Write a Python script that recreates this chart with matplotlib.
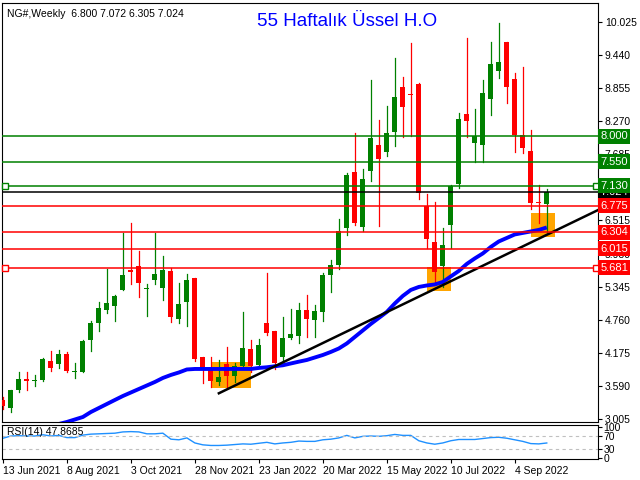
import matplotlib.pyplot as plt
import numpy as np

# weekly NG# candles, 13 Jun 2021 .. 25 Sep 2022
opens = [3.341, 3.205, 3.518, 3.712, 3.682, 3.694, 4.030, 3.983, 4.154, 3.841,
         3.841, 4.407, 4.708, 4.938, 5.008, 5.291, 5.640, 5.710, 5.298, 5.463,
         5.321, 5.622, 4.778, 5.079, 5.498, 4.096, 3.901, 3.664, 3.977, 3.771,
         3.937, 4.237, 3.965, 4.702, 4.561, 4.106, 4.442, 4.478, 4.932, 4.755,
         4.902, 5.551, 5.728, 6.388, 7.367, 6.405, 7.396, 7.850, 7.721, 8.075,
         8.876, 8.752, 8.929, 6.777, 6.135, 5.710, 6.435, 7.160, 8.398, 7.891,
         7.850, 8.663, 9.158, 9.671, 9.017, 8.027, 7.744, 6.842, 6.800]
highs = [3.399, 3.518, 3.836, 3.836, 3.783, 4.089, 4.207, 4.225, 4.190, 3.995,
         4.402, 4.743, 5.074, 5.657, 5.197, 6.299, 6.471, 5.976, 5.392, 6.299,
         5.887, 5.680, 5.415, 5.569, 5.498, 4.096, 4.106, 4.048, 4.273, 3.990,
         4.891, 4.402, 4.414, 5.581, 4.561, 4.808, 4.950, 5.051, 5.197, 5.021,
         5.581, 5.816, 6.536, 7.349, 8.057, 7.420, 8.999, 8.292, 8.540, 9.383,
         9.058, 9.648, 8.952, 6.983, 6.842, 6.377, 7.143, 8.411, 9.737, 8.487,
         8.999, 9.671, 10.002, 9.671, 9.118, 9.224, 8.115, 7.143, 7.072]
lows = [3.182, 3.134, 3.482, 3.518, 3.594, 3.682, 3.859, 3.912, 3.841, 3.735,
        3.841, 4.213, 4.566, 4.884, 4.743, 5.286, 5.397, 5.167, 4.826, 5.392,
        5.109, 4.725, 4.708, 4.649, 4.036, 3.647, 3.576, 3.606, 3.548, 3.664,
        3.901, 3.841, 3.930, 4.490, 3.884, 4.018, 4.419, 4.343, 4.460, 4.460,
        4.743, 5.256, 5.652, 6.258, 6.435, 6.335, 7.219, 6.423, 7.655, 7.832,
        7.997, 8.009, 6.890, 6.023, 5.433, 5.339, 6.023, 7.084, 7.997, 7.544,
        7.544, 8.380, 9.040, 8.598, 7.732, 7.714, 6.718, 6.465, 6.305]
closes = [3.240, 3.518, 3.712, 3.682, 3.700, 4.071, 3.912, 4.154, 3.859, 3.854,
          4.384, 4.702, 4.968, 5.056, 5.180, 5.551, 5.610, 5.415, 5.321, 5.569,
          5.640, 4.814, 5.038, 5.463, 4.071, 3.884, 3.682, 3.742, 3.771, 3.937,
          4.255, 3.947, 4.313, 4.531, 3.995, 4.437, 4.508, 4.932, 4.778, 4.915,
          5.551, 5.728, 6.335, 7.319, 6.465, 7.249, 7.979, 7.602, 8.057, 8.693,
          8.527, 8.734, 6.996, 6.182, 5.610, 6.082, 7.125, 8.310, 8.280, 8.009,
          8.764, 9.282, 9.318, 8.881, 8.027, 7.802, 6.830, 6.819, 7.024]

# 55 week EMA, shown from week 7 on
ema_start = 7
ema55 = [2.916, 2.952, 2.996, 3.040, 3.128, 3.199, 3.270, 3.341, 3.411, 3.473,
         3.535, 3.597, 3.659, 3.730, 3.783, 3.827, 3.880, 3.889, 3.889, 3.889,
         3.889, 3.889, 3.889, 3.889, 3.889, 3.907, 3.919, 3.937, 3.954, 3.986,
         4.018, 4.048, 4.092, 4.136, 4.190, 4.251, 4.340, 4.455, 4.570, 4.685,
         4.791, 4.897, 5.047, 5.180, 5.286, 5.339, 5.365, 5.383, 5.427, 5.525,
         5.622, 5.746, 5.843, 5.931, 6.046, 6.143, 6.205, 6.267, 6.294, 6.320,
         6.347, 6.391]

rsi14 = [63, 70, 71, 70, 70, 74, 70, 72, 65, 65,
         73, 76, 77, 78, 79, 83, 84, 83, 77, 77,
         79, 60, 58, 64, 48, 42, 40, 40, 41, 43,
         45, 44, 47, 50, 45, 48, 50, 54, 53, 53,
         58, 60, 64, 72, 64, 69, 70, 69, 71, 75,
         72, 72, 55, 48, 44, 48, 55, 59, 59, 59,
         62, 65, 66, 63, 58, 53, 46, 45, 47.8685]

date_labels = ['13 Jun 2021', '8 Aug 2021', '3 Oct 2021', '28 Nov 2021', '23 Jan 2022',
               '20 Mar 2022', '15 May 2022', '10 Jul 2022', '4 Sep 2022']
price_ticks = [3.005, 3.590, 4.175, 4.760, 5.345, 5.930, 6.515, 7.100, 7.685,
               8.270, 8.855, 9.440, 10.025]

resistance = [8.000, 7.550, 7.130]
support = [6.775, 6.304, 6.015, 5.681]
last_price = 7.024

# orange zones: (first week, last week, low, high)
zones = [(26, 31, 3.558, 4.018), (53, 56, 5.274, 5.687), (66, 69, 6.228, 6.653)]
trend_pts = ([27, 75], [3.459, 6.739])

GREEN = '#008000'
RED = '#ff0000'
plt.rcParams['font.family'] = ['Liberation Sans', 'DejaVu Sans']

fig = plt.figure(figsize=(6.4, 4.8), dpi=100)
ax = fig.add_axes([0.003, 0.1208, 0.931, 0.8732])
ax_rsi = fig.add_axes([0.003, 0.0437, 0.931, 0.0709])

n = len(opens)
x = np.arange(n)

for x0, x1, lo, hi in zones:
    ax.add_patch(plt.Rectangle((x0, lo), x1 - x0, hi - lo, color='#ffa500', zorder=1, lw=0))

for i in range(n):
    col = GREEN if closes[i] >= opens[i] else RED
    ax.plot([i, i], [lows[i], highs[i]], color=col, lw=0.9, zorder=3)
    b0, b1 = sorted([opens[i], closes[i]])
    ax.add_patch(plt.Rectangle((i - 0.32, b0), 0.64, max(b1 - b0, 0.02), color=col, lw=0, zorder=3))

ax.plot(np.arange(ema_start, ema_start + len(ema55)), ema55, color='#0000ff', lw=2.8,
        zorder=4, solid_capstyle='butt')
ax.plot(trend_pts[0], trend_pts[1], color='black', lw=1.8, zorder=4)

for lv in resistance:
    ax.axhline(lv, color=GREEN, lw=1.1, zorder=5)
for lv in support:
    ax.axhline(lv, color=RED, lw=1.1, zorder=5)
ax.axhline(last_price, color='black', lw=1.1, zorder=5)
ax.plot([0.2, 74.2], [7.130, 7.130], 's', ms=4, mfc='white', mec=GREEN, mew=1, zorder=6, clip_on=False)
ax.plot([0.2, 74.2], [5.681, 5.681], 's', ms=4, mfc='white', mec=RED, mew=1, zorder=6, clip_on=False)

ax.set_xlim(-0.125, 74.375)
ax.set_ylim(2.951, 10.361)
ax.set_xticks([])
ax.yaxis.tick_right()
ax.set_yticks(price_ticks)
# 7.100 sits under the 7.130 tag, so its label is left blank
ax.set_yticklabels(['' if t == 7.100 else '%.3f' % t for t in price_ticks], fontsize=7.5)
ax.tick_params(axis='y', length=3, pad=2)

def price_tag(val, bg):
    ax.text(1.004, val, '%.3f' % val, transform=ax.get_yaxis_transform(), ha='left',
            va='center', fontsize=8, color='white', zorder=10,
            bbox=dict(boxstyle='square,pad=0.22', fc=bg, ec='none'))

price_tag(last_price, 'black')
for lv in resistance:
    price_tag(lv, GREEN)
for lv in support:
    price_tag(lv, RED)

ax.text(0.008, 0.985, 'NG#,Weekly  6.800 7.072 6.305 7.024', transform=ax.transAxes,
        fontsize=7.5, va='top', ha='left')
ax.text(0.58, 0.955, '55 Haftalık Üssel H.O', transform=ax.transAxes, color='#0000ff',
        fontsize=13.5, ha='center', va='center')

# RSI panel
ax_rsi.plot(x, rsi14, color='#1e90ff', lw=1)
for lv in [70, 30]:
    ax_rsi.axhline(lv, color='#c0c0c0', lw=0.8, ls=(0, (3, 3)))
ax_rsi.set_xlim(-0.125, 74.375)
ax_rsi.set_ylim(-3, 105)
ax_rsi.yaxis.tick_right()
ax_rsi.set_yticks([0, 30, 70, 100])
ax_rsi.set_yticklabels(['0', '30', '70', '100'], fontsize=7.5)
ax_rsi.tick_params(axis='y', length=3, pad=1)
ax_rsi.set_xticks(np.arange(0, 72, 8))
ax_rsi.set_xticklabels(date_labels, fontsize=7.5, ha='left')
ax_rsi.tick_params(axis='x', length=3, pad=2)
ax_rsi.text(0.008, 0.93, 'RSI(14) 47.8685', transform=ax_rsi.transAxes, fontsize=7.5,
            va='top', ha='left')

fig.savefig('out.png', dpi=100)
